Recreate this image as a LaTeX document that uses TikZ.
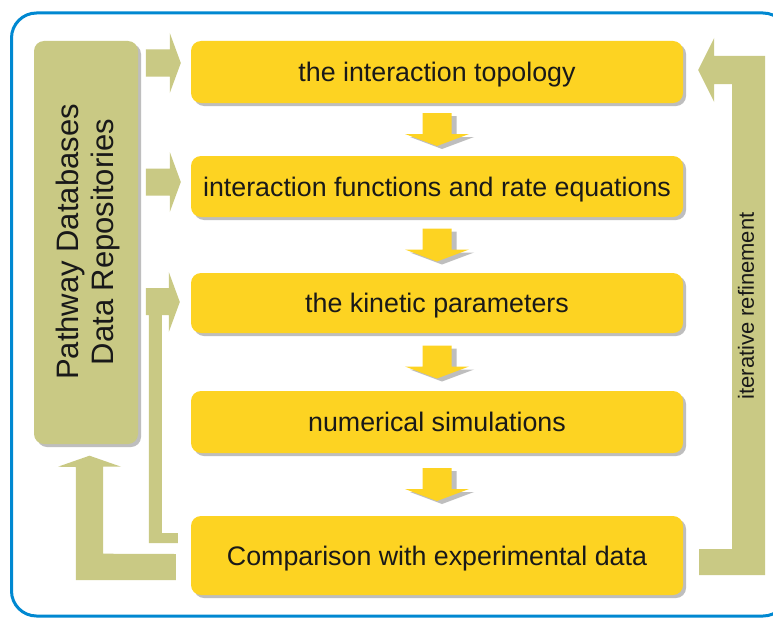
\documentclass[tikz,border=0pt]{standalone}
\usepackage{fontspec}
\setmainfont{Liberation Sans}
\usetikzlibrary{calc,shadows}
\definecolor{framec}{RGB}{0,136,209}
\definecolor{greenc}{RGB}{201,201,132}
\definecolor{yellowc}{RGB}{253,211,34}
\definecolor{shadowc}{RGB}{190,190,190}
\definecolor{textc}{RGB}{25,25,25}
\begin{document}
\begin{tikzpicture}[x=1pt,y=-1pt,
  ybox/.style={fill=yellowc, rounded corners=10pt, minimum width=492pt, inner sep=0pt,
    text=textc, font=\fontsize{26.8}{32}\selectfont, text height=19.2pt, text depth=0pt,
    general shadow={fill=shadowc, shadow xshift=3pt, shadow yshift=-3pt}},
  gbox/.style={fill=greenc, rounded corners=10pt, inner sep=0pt,
    general shadow={fill=shadowc, shadow xshift=3pt, shadow yshift=-3pt}},
  gtext/.style={text=textc, align=center, inner sep=0pt},
  barrow/.style={fill=greenc},
  downarr/.pic={
    \fill[shadowc] (-9.5,-13.5) -- (19.5,-13.5) -- (19.5,7.5) -- (37,7.5) -- (5,19.5) -- (-27,7.5) -- (-9.5,7.5) -- cycle;
    \fill[yellowc] (-14.5,-16.5) -- (14.5,-16.5) -- (14.5,4.5) -- (32,4.5) -- (0,16.5) -- (-32,4.5) -- (-14.5,4.5) -- cycle;
  },
  rarr/.pic={
    \fill[greenc] (-35,-13.5) -- (-11,-13.5) -- (-11,-30) -- (0,0) -- (-11,30) -- (-11,13.5) -- (-35,13.5) -- cycle;
  }]
\useasboundingbox (0,0) rectangle (773,618);
\clip (0,0) rectangle (773,618);
\fill[white] (0,0) rectangle (773,618);
\draw[framec, line width=3pt, rounded corners=25pt] (11.5,13) rectangle (788,616);

% process boxes
\node[ybox, minimum height=62pt] (t1) at (437,72) {the interaction topology};
\node[ybox, minimum height=61pt] (t2) at (437,186.5) {interaction functions and rate equations};
\node[ybox, minimum height=60pt] (t3) at (437,303) {the kinetic parameters};
\node[ybox, minimum height=62pt] (t4) at (437,422) {numerical simulations};
\node[ybox, minimum height=79pt] (t5) at (437,555.5) {Comparison with experimental data};

% database box
\node[gbox, minimum width=104pt, minimum height=403pt] (db) at (86,242.5) {};
\node[gtext, rotate=90, font=\fontsize{31}{35}\selectfont] (dbt) at ($(db.center)+(2,-0.5)$) {Pathway Databases\\Data Repositories};

% down arrows between boxes
\pic at ($(t1.south)!0.5!(t2.north)$) {downarr};
\pic at ($(t2.south)!0.5!(t3.north)$) {downarr};
\pic at ($(t3.south)!0.5!(t4.north)$) {downarr};
\pic at ($(t4.south)!0.5!(t5.north)$) {downarr};

% arrows from databases to boxes
\pic at ($(t1.west |- 0,63)+(-10,0)$) {rarr};
\pic at ($(t2.west |- 0,182)+(-10,0)$) {rarr};
\fill[barrow] ($(t3.west)+(-45,-15)$) -- ++(23,0) -- ++(0,-16) -- ($(t3.west)+(-11,-1)$) -- ++(-11,30) -- ++(0,-17) -- ++(-7,0)
  |- ($(t5.west)+(-13,-22.5)$) -- ++(0,10) -- ++(-29,0) -- ++(0,-228) -- ++(-3,0) -- cycle;

% feedback from comparison to databases
\fill[barrow] ($(t5.west)+(-15,24.5)$) -- ++(-100,0) -- ++(0,-113) -- ($(db.south)+(-28,22.5)$) -- ($(db.south)+(3.5,11.5)$)
  -- ($(db.south)+(35,22.5)$) -- ++(-18,0) -- ++(0,87) -- ($(t5.west)+(-15,-1.5)$) -- cycle;

% iterative refinement loop
\fill[barrow] ($(t5.east)+(16,19.5)$) -- ++(0,-26) -- ++(33,0) -- ++(0,-465) -- ++(-18,0) -- ++(0,18) -- ($(t1.east)+(15,-2)$)
  -- ++(16,-32) -- ++(0,18) -- ++(51,0) -- ++(0,519) -- cycle;
\node[text=textc, rotate=90, inner sep=0pt, font=\fontsize{22}{26}\selectfont] (ir) at (746,306) {iterative refinement};
\end{tikzpicture}
\end{document}
